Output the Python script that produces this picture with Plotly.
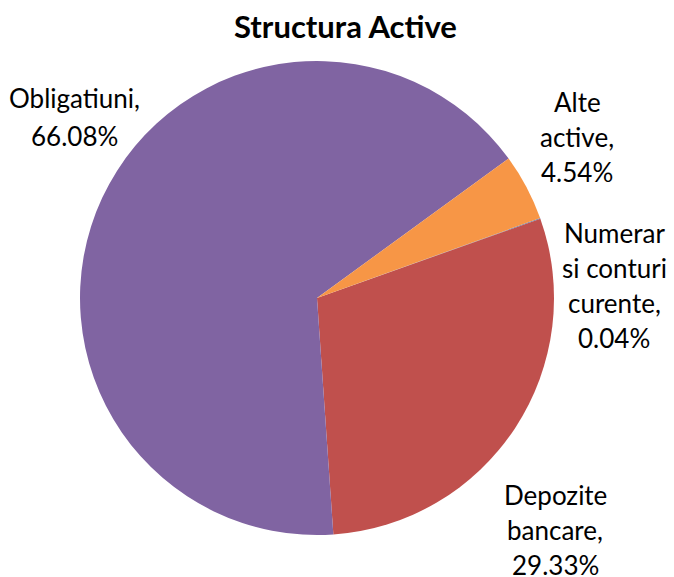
import plotly.graph_objects as go

# Data (clockwise order, starting with Numerar)
categories = ["Numerar si conturi curente", "Depozite bancare", "Obligatiuni", "Alte active"]
values = [0.04, 29.33, 66.08, 4.54]
label_lines = [
    ["Numerar", "si conturi", "curente,"],
    ["Depozite", "bancare,"],
    ["Obligatiuni,"],
    ["Alte", "active,"],
]
colors = ["#4F81BD", "#C0504D", "#8064A2", "#F79646"]

W, H = 674, 577
cx, cy, r = 317, 298, 237

# label block placement (pixel centres of first line) and line spacing
label_pos = [(614, 233), (555, 495), (74, 98), (577, 102)]
line_gaps = [35, 35, 38, 35]

fig = go.Figure(go.Pie(
    labels=categories,
    values=values,
    sort=False,
    direction="clockwise",
    rotation=70.3,
    marker=dict(colors=colors, line=dict(width=0)),
    textinfo="none",
    hoverinfo="label+percent",
    domain=dict(x=[(cx - r) / W, (cx + r) / W], y=[(H - cy - r) / H, (H - cy + r) / H]),
    showlegend=False,
))

annotations = []
for lines, val, (px, py), gap in zip(label_lines, values, label_pos, line_gaps):
    all_lines = lines + [f"{val:.2f}%"]
    for i, t in enumerate(all_lines):
        annotations.append(dict(
            text=t, x=px / W, y=1 - (py + i * gap) / H,
            xref="paper", yref="paper", showarrow=False,
            xanchor="center", yanchor="middle",
            font=dict(family="Lato", size=26, color="#000000"),
        ))

annotations.append(dict(
    text="<b>Structura Active</b>", x=345 / W, y=1 - 26 / H,
    xref="paper", yref="paper", showarrow=False,
    xanchor="center", yanchor="middle",
    font=dict(family="Lato", size=31, color="#000000"),
))

fig.update_layout(
    width=W, height=H,
    margin=dict(l=0, r=0, t=0, b=0),
    paper_bgcolor="white",
    plot_bgcolor="white",
    annotations=annotations,
)

fig.write_html("out.html", config={"displayModeBar": False},
               post_script="document.body.style.margin='0';")
